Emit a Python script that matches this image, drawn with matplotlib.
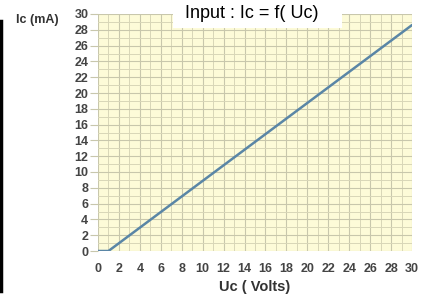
import matplotlib
matplotlib.use("Agg")
import matplotlib.pyplot as plt
from matplotlib.patches import Rectangle
from matplotlib.lines import Line2D

uc = [0, 1, 30]
ic = [0, 0, 28.6]
x_ticks = list(range(0, 31, 2))
y_ticks = list(range(0, 31, 2))
title = "Input : Ic = f( Uc)"
xlabel = "Uc ( Volts)"
ylabel = "Ic (mA)"

plt.rcParams['font.family'] = ['Liberation Sans', 'DejaVu Sans']
fig = plt.figure(figsize=(4.31, 2.95), dpi=100)
ax = fig.add_axes([98/431, 44/295, 314/431, 237/295])
ax.set_facecolor('#fdfbd8')
ax.set_xlim(0, 30)
ax.set_ylim(0, 30)
ax.set_xticks(x_ticks)
ax.set_yticks(y_ticks)
ax.set_xticks(range(0, 31), minor=True)
ax.set_yticks(range(0, 31), minor=True)
ax.grid(True, which='major', color='#c8c7ac', lw=0.8)
ax.grid(True, which='minor', color='#d8d6b8', lw=0.7)
ax.set_axisbelow(True)
for s in ax.spines.values():
    s.set_visible(False)
ax.tick_params(which='major', length=6, color='#c8c7ac', labelsize=9, labelcolor='#444444', pad=1)
ax.tick_params(which='minor', length=0)
ax.tick_params(axis='x', length=0, pad=9)
for lab in ax.get_xticklabels() + ax.get_yticklabels():
    lab.set_fontweight('bold')
ax.plot(uc, ic, color='#5a86a6', lw=1.8, solid_capstyle='round', zorder=3)

fig.text(16/431, 1 - 20/295, ylabel, fontsize=9, fontweight='bold', color='#333333', va='center', ha='left')
fig.text(255/431, 1 - 287/295, xlabel, fontsize=10.5, fontweight='bold', color='#333333', va='center', ha='center')

fig.patches.append(Rectangle((173/431, 1 - 28/295), (342-173)/431, 28/295, transform=fig.transFigure,
                             facecolor='white', edgecolor='none', zorder=5))
fig.text(252/431, 1 - 14/295, title, fontsize=13, color='black', va='center', ha='center', zorder=6)
fig.lines.append(Line2D([1.5/431, 1.5/431], [1 - 21/295, 1 - 291/295], transform=fig.transFigure,
                        color='black', lw=2.5))
fig.savefig('out.png', dpi=100)
